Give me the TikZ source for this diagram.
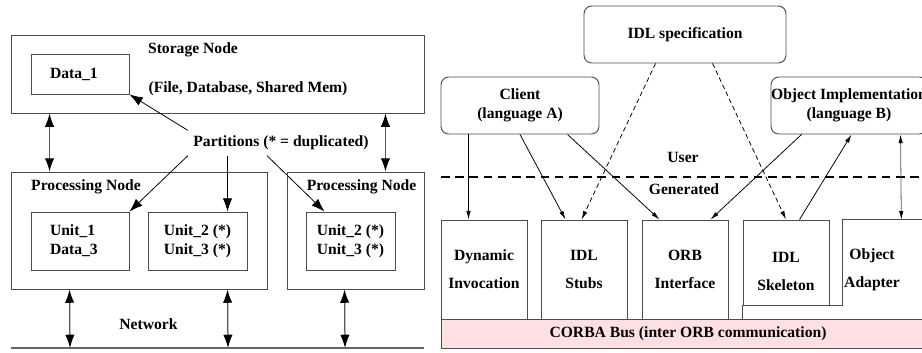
\documentclass[tikz,border=0pt]{standalone}
\usepackage{fontspec}
\setmainfont{Liberation Serif}
\usetikzlibrary{calc,arrows.meta}
\definecolor{buspink}{RGB}{255,224,226}
\def\u{0.64pt}
\tikzset{
	sz/.style 2 args={minimum width=#1*\u, minimum height=#2*\u},
	box/.style={draw=black!70, line width=0.6pt, inner sep=0pt},
	leftbox/.style={box, text width=60*\u, inner xsep=19*\u, align=left},
	rbox/.style={box, rounded corners=5pt, align=center},
	bigarrow/.style={draw=black!65, line width=0.8pt, arrows={Latex[length=8.5pt,width=6pt,black]-Latex[length=8.5pt,width=6pt,black]}},
	partarrow/.style={draw=black, line width=0.5pt, arrows={-Latex[length=8.5pt,width=6pt]}},
	smallarrow/.style={draw=black, line width=0.5pt, arrows={-Latex[length=5.5pt,width=2.8pt]}},
	idlarrow/.style={smallarrow, dash pattern=on 3pt off 2pt}
}
\begin{document}
\begin{tikzpicture}[x=\u, y=-\u, font=\bfseries]
			\path[use as bounding box, clip] (0,0) rectangle (922,352);
			
			%%%%% DISTRIBUTED SYSTEM %%%%%
			
			\node[box, sz={413}{78}] (storage) at (217.5,74) {};
			\node[leftbox, sz={98}{40}] (data1) at (80,74) {Data\_1};
			\node (storlbl) at (193,50) {Storage Node};
			\node (filelbl) at (248,89) {(File, Database, Shared Mem)};
			
			\node[box, sz={256}{117}] (procA) at (139,230.5) {};
			\node (proclblA) at (86,187) {Processing Node};
			\node[leftbox, sz={98}{58}] (unit1) at (80,241) {Unit\_1\\Data\_3};
			\node[box, sz={99}{58}, align=left] (unit2) at (197.5,241) {Unit\_2 (*)\\Unit\_3 (*)};
			
			\node[box, sz={137}{117}] (procB) at (355.5,230.5) {};
			\node (proclblB) at (361.5,187) {Processing Node};
			\node[box, sz={89}{58}, align=left] (unit4) at (350.5,241) {Unit\_2 (*)\\Unit\_3 (*)};
			
			\node (parts) at (281,143) {Partitions (* = duplicated)};
			\node (network) at (148.5,324) {Network};
			\coordinate (netL) at (11,348);
			\coordinate (netR) at (424,348);
			\draw[black!60, line width=1.4pt] (netL) -- (netR);
			
			\draw[bigarrow] ($(storage.south west)+(39,0)$) -- ($(procA.north west)+(39,0)$);
			\draw[bigarrow] ($(storage.south east)+(-39,0)$) -- ($(procB.north east)+(-39,0)$);
			
			\coordinate (u2top) at ($(unit2.north west)+(80,0)$);
			\draw[partarrow] (parts.north west) -- (data1.south east);
			\draw[partarrow] (parts.south west) -- (unit1.north east);
			\draw[partarrow] (parts.south -| u2top) -- (u2top);
			\draw[partarrow] ($(parts.south west)+(79,0)$) -- ($(unit4.north west)+(19,0)$);
			
			\draw[bigarrow] ($(procA.south west)+(59,0)$) -- ($(netL)+(59,0)$);
			\draw[bigarrow] ($(procA.south west)+(217,0)$) -- ($(netL)+(217,0)$);
			\draw[bigarrow] ($(procB.south west)+(58,0)$) -- ($(netL)+(334,0)$);
			
			%%%%% CORBA %%%%%
			
			\node[rbox, sz={202}{57}] (idl) at (685,34.5) {IDL specification};
			\node[rbox, sz={158}{57}] (client) at (520,105.5) {Client\\(language A)};
			\node[rbox, sz={156}{57}] (objimpl) at (849,105.5) {Object Implementation\\(language B)};
			
			\node (user) at (683,157) {User};
			\node (generated) at (684,189) {Generated};
			\coordinate (dashL) at (441,177);
			\coordinate (dashR) at (930,177);
			\draw[line width=1.2pt, dash pattern=on 5.5pt off 3.6pt] (dashL) -- (dashR);
			
			\node[box, sz={86}{99}, align=center] (dyn) at (484,269.5) {Dynamic\\[6pt]Invocation};
			\node[box, sz={86}{99}, align=center] (stubs) at (584,269.5) {IDL\\[6pt]Stubs};
			\node[box, sz={86}{99}, align=center] (orbif) at (685,269.5) {ORB\\[6pt]Interface};
			\node[box, sz={86}{85}, label={[align=center, yshift=-6pt]center:IDL\\[6pt]Skeleton}] (skel) at (786,262.5) {};
			\node[sz={58}{99}, inner sep=0pt, align=center] (adapter) at (872,269.5) {Object\\[6pt]Adapter};
			\draw[black!70, line width=0.6pt] ($(adapter.north east)+(40,0)$) -- (adapter.north west)
				-- (adapter.west |- skel.south) -- (skel.south west) -- (skel.south west |- adapter.south);
			\node[box, fill=buspink, sz={494}{29}] (bus) at (688,333.5) {CORBA Bus (inter ORB communication)};
			
			\draw[smallarrow] ($(client.south west)+(28,0)$) -- ($(dyn.north west)+(28,0)$);
			\draw[smallarrow] (client.south) -- ($(stubs.north west)+(25,0)$);
			\draw[smallarrow] ($(client.south west)+(127,0)$) -- ($(orbif.north west)+(18,0)$);
			\draw[idlarrow] ($(idl.south west)+(72,0)$) -- ($(stubs.north west)+(41,0)$);
			\draw[idlarrow] ($(idl.south west)+(129,0)$) -- (skel.north);
			\draw[smallarrow] ($(objimpl.south west)+(31,0)$) -- ($(orbif.north west)+(69,0)$);
			\draw[smallarrow] ($(skel.north west)+(57,0)$) -- ($(objimpl.south west)+(81,0)$);
			\draw[smallarrow, draw=black!65, arrows={Latex[length=5.5pt,width=2.8pt,black]-Latex[length=5.5pt,width=2.8pt,black]}] ($(objimpl.south west)+(130,0)$) -- (adapter.north east);
			
			%%%%% END %%%%%
\end{tikzpicture}
\end{document}
